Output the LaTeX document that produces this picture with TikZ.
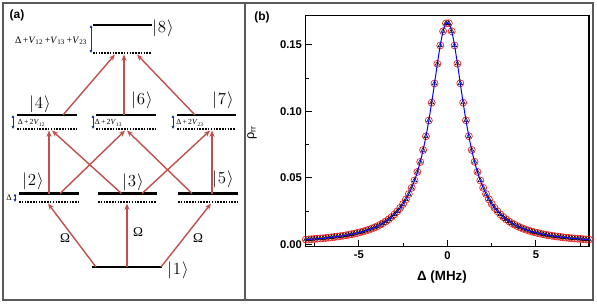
\documentclass[tikz,border=0pt]{standalone}
\usepackage{fontspec}
\setmainfont{Liberation Serif}
\newfontfamily\arialfont{Liberation Sans}
\usetikzlibrary{arrows.meta,plotmarks}
\definecolor{transred}{RGB}{192,80,77}
\definecolor{gapblue}{RGB}{20,50,150}
\definecolor{framegray}{RGB}{90,90,90}
\definecolor{markred}{RGB}{228,40,40}

\begin{document}
\begin{tikzpicture}[x=0.25mm,y=-0.25mm,>=Latex,
 lvl/.style={line width=1.5pt},
 virt/.style={line width=1.3pt,dash pattern=on 1.1pt off 0.9pt},
 trans/.style={-{Stealth[length=4.5pt,width=3.6pt]},draw=transred,line width=1pt},
 gapar/.style={{Latex[length=2pt,width=2.2pt]}-{Latex[length=2pt,width=2.2pt]},draw=gapblue,line width=0.5pt},
 ket/.style={font=\fontsize{11.5}{13}\selectfont,inner sep=1pt},
 shiftlbl/.style={font=\fontsize{5.5}{6}\selectfont,inner sep=0pt},
 rabi/.style={font=\fontsize{9.5}{11}\selectfont,inner sep=1pt},
 panel/.style={font=\arialfont\bfseries\fontsize{8.5}{10}\selectfont,inner sep=0pt},
 ticklbl/.style={font=\arialfont\bfseries\fontsize{8}{9.6}\selectfont,inner sep=1pt}]
\useasboundingbox (0,0) rectangle (597,304);
\draw[framegray,line width=0.8pt] (3,3) rectangle (593,300);
\draw[framegray,line width=0.8pt] (245,3) -- (245,300);
\node[panel] (pa) at (17,15) {(a)};
\node[panel] (pb) at (262,17) {(b)};

% levels and shifted levels
\draw[lvl] (93,25) -- (152,25);
\draw[virt] (93,53) -- (152,53);
\draw[lvl] (17,115) -- (77,115);
\draw[virt] (17,129) -- (77,129);
\draw[lvl] (96,115) -- (156,115);
\draw[virt] (96,129) -- (156,129);
\draw[lvl] (177,115) -- (236,115);
\draw[virt] (177,129) -- (236,129);
\draw[lvl] (19,193.5) -- (79,193.5);
\draw[virt] (19,202) -- (79,202);
\draw[lvl] (98,193.5) -- (157,193.5);
\draw[virt] (98,202) -- (157,202);
\draw[lvl] (178,193.5) -- (238,193.5);
\draw[virt] (178,202) -- (238,202);
\draw[lvl] (92,267) -- (162,267);

\node[ket] (k8) at (163,28) {$|\mkern1mu 8\mkern1mu\rangle$};
\node[ket] (k4) at (40,104) {$|\mkern1mu 4\mkern1mu\rangle$};
\node[ket] (k6) at (142,100) {$|\mkern1mu 6\mkern1mu\rangle$};
\node[ket] (k7) at (223,100) {$|\mkern1mu 7\mkern1mu\rangle$};
\node[ket] (k2) at (33,181) {$|\mkern1mu 2\mkern1mu\rangle$};
\node[ket] (k3) at (133,182) {$|\mkern1mu 3\mkern1mu\rangle$};
\node[ket] (k5) at (223,179) {$|\mkern1mu 5\mkern1mu\rangle$};
\node[ket] (k1) at (178,270) {$|\mkern1mu 1\mkern1mu\rangle$};

% detunings
\node[font=\fontsize{7}{8}\selectfont,inner sep=0pt] (sh8) at (51,41) {Δ\,+\textit{V}\textsubscript{12}\,+\textit{V}\textsubscript{13}\,+\textit{V}\textsubscript{23}};
\node[shiftlbl] (sh4) at (31.5,123) {Δ\,+\,2\textit{V}\textsubscript{12}};
\node[shiftlbl] (sh6) at (108.5,123) {Δ\,+\,2\textit{V}\textsubscript{13}};
\node[shiftlbl] (sh7) at (190,123) {Δ\,+\,2\textit{V}\textsubscript{23}};
\node[font=\fontsize{6}{7}\selectfont,inner sep=0pt] (sh2) at (9,197.5) {Δ};
\coordinate (g8t) at (91,25);  \coordinate (g8b) at (91,53);
\coordinate (g4t) at (13,115); \coordinate (g4b) at (13,129);
\coordinate (g6t) at (93,115); \coordinate (g6b) at (93,129);
\coordinate (g7t) at (173,115); \coordinate (g7b) at (173,129);
\coordinate (g2t) at (15,193.5); \coordinate (g2b) at (15,202);
\draw[gapar] (g8t) -- (g8b);
\draw[gapar] (g4t) -- (g4b);
\draw[gapar] (g6t) -- (g6b);
\draw[gapar] (g7t) -- (g7b);
\draw[gapar] (g2t) -- (g2b);

% transitions
\coordinate (e1a) at (96,267);  \coordinate (e1b) at (127,267); \coordinate (e1c) at (161,267);
\coordinate (d2) at (48,203.5); \coordinate (d3) at (127,203.5); \coordinate (d5) at (211,203.5);
\coordinate (e2a) at (49,193.5); \coordinate (e2b) at (60,193.5);
\coordinate (e3a) at (121.5,193.5); \coordinate (e3b) at (142,193.5);
\coordinate (e5a) at (192,193.5); \coordinate (e5b) at (212,193.5);
\coordinate (d4a) at (49,130.5); \coordinate (d4b) at (52,130.5);
\coordinate (d6a) at (125,130.5); \coordinate (d6b) at (127,130.5);
\coordinate (d7a) at (210,130.5); \coordinate (d7b) at (212,130.5);
\coordinate (e4) at (63,115); \coordinate (e6) at (124,115); \coordinate (e7) at (195,115);
\coordinate (d8a) at (115,54.5); \coordinate (d8b) at (124,54.5); \coordinate (d8c) at (137,54.5);
\draw[trans] (e1a) -- (d2);
\draw[trans] (e1b) -- (d3);
\draw[trans] (e1c) -- (d5);
\draw[trans] (e2a) -- (d4a);
\draw[trans] (e3a) -- (d4b);
\draw[trans] (e2b) -- (d6a);
\draw[trans] (e5a) -- (d6b);
\draw[trans] (e3b) -- (d7a);
\draw[trans] (e5b) -- (d7b);
\draw[trans] (e4) -- (d8a);
\draw[trans] (e6) -- (d8b);
\draw[trans] (e7) -- (d8c);
\node[rabi] (om1) at (65,238) {Ω};
\node[rabi] (om2) at (138,232) {Ω};
\node[rabi] (om3) at (198,238) {Ω};

% panel (b)
\begin{scope}[shift={(447.4,244.3)},x=4.425mm,y=332.5mm]
 \draw[line width=0.8pt] (-8,-0.0018) rectangle (8,0.1717);
 \foreach \t/\lab in {0/0.00,0.05/0.05,0.1/0.10,0.15/0.15}{
  \draw[line width=0.6pt] (-8,\t) -- ++(4.5pt,0);
  \node[ticklbl,anchor=east] (yl\lab) at ([xshift=-1.5pt]-8,\t) {\lab};
 }
 \foreach \t in {0.025,0.075,0.125}
  \draw[line width=0.6pt] (-8,\t) -- ++(2.5pt,0);
 \foreach \t in {-5,0,5}{
  \draw[line width=0.6pt] (\t,-0.0018) -- ++(0,4.5pt);
  \node[ticklbl,anchor=north] (xl\t) at ([yshift=-2pt]\t,-0.0018) {\t};
 }
 \foreach \t in {-7.5,-2.5,2.5,7.5}
  \draw[line width=0.6pt] (\t,-0.0018) -- ++(0,2.5pt);
 \draw[markred,line width=0.5pt] plot[only marks,mark=o,mark size=2.5pt,domain=-8:8,samples=100] (\x,{0.167/(1+(\x/1.18)^2)});
 \draw[black,line width=0.35pt] plot[only marks,mark=triangle,mark size=1.8pt,domain=-8:8,samples=100] (\x,{0.167/(1+(\x/1.18)^2)});
 \draw[blue,line width=0.7pt] plot[smooth,domain=-8:8,samples=161] (\x,{0.167/(1+(\x/1.18)^2)});
\end{scope}
\node[font=\arialfont\bfseries\fontsize{9.5}{11}\selectfont] (xlab) at (442,277) {Δ (MHz)};
\node[rotate=90,font=\arialfont\fontsize{9}{10}\selectfont] (ylab) at (252,133) {ρ\textsubscript{rr}};
\end{tikzpicture}
\end{document}
